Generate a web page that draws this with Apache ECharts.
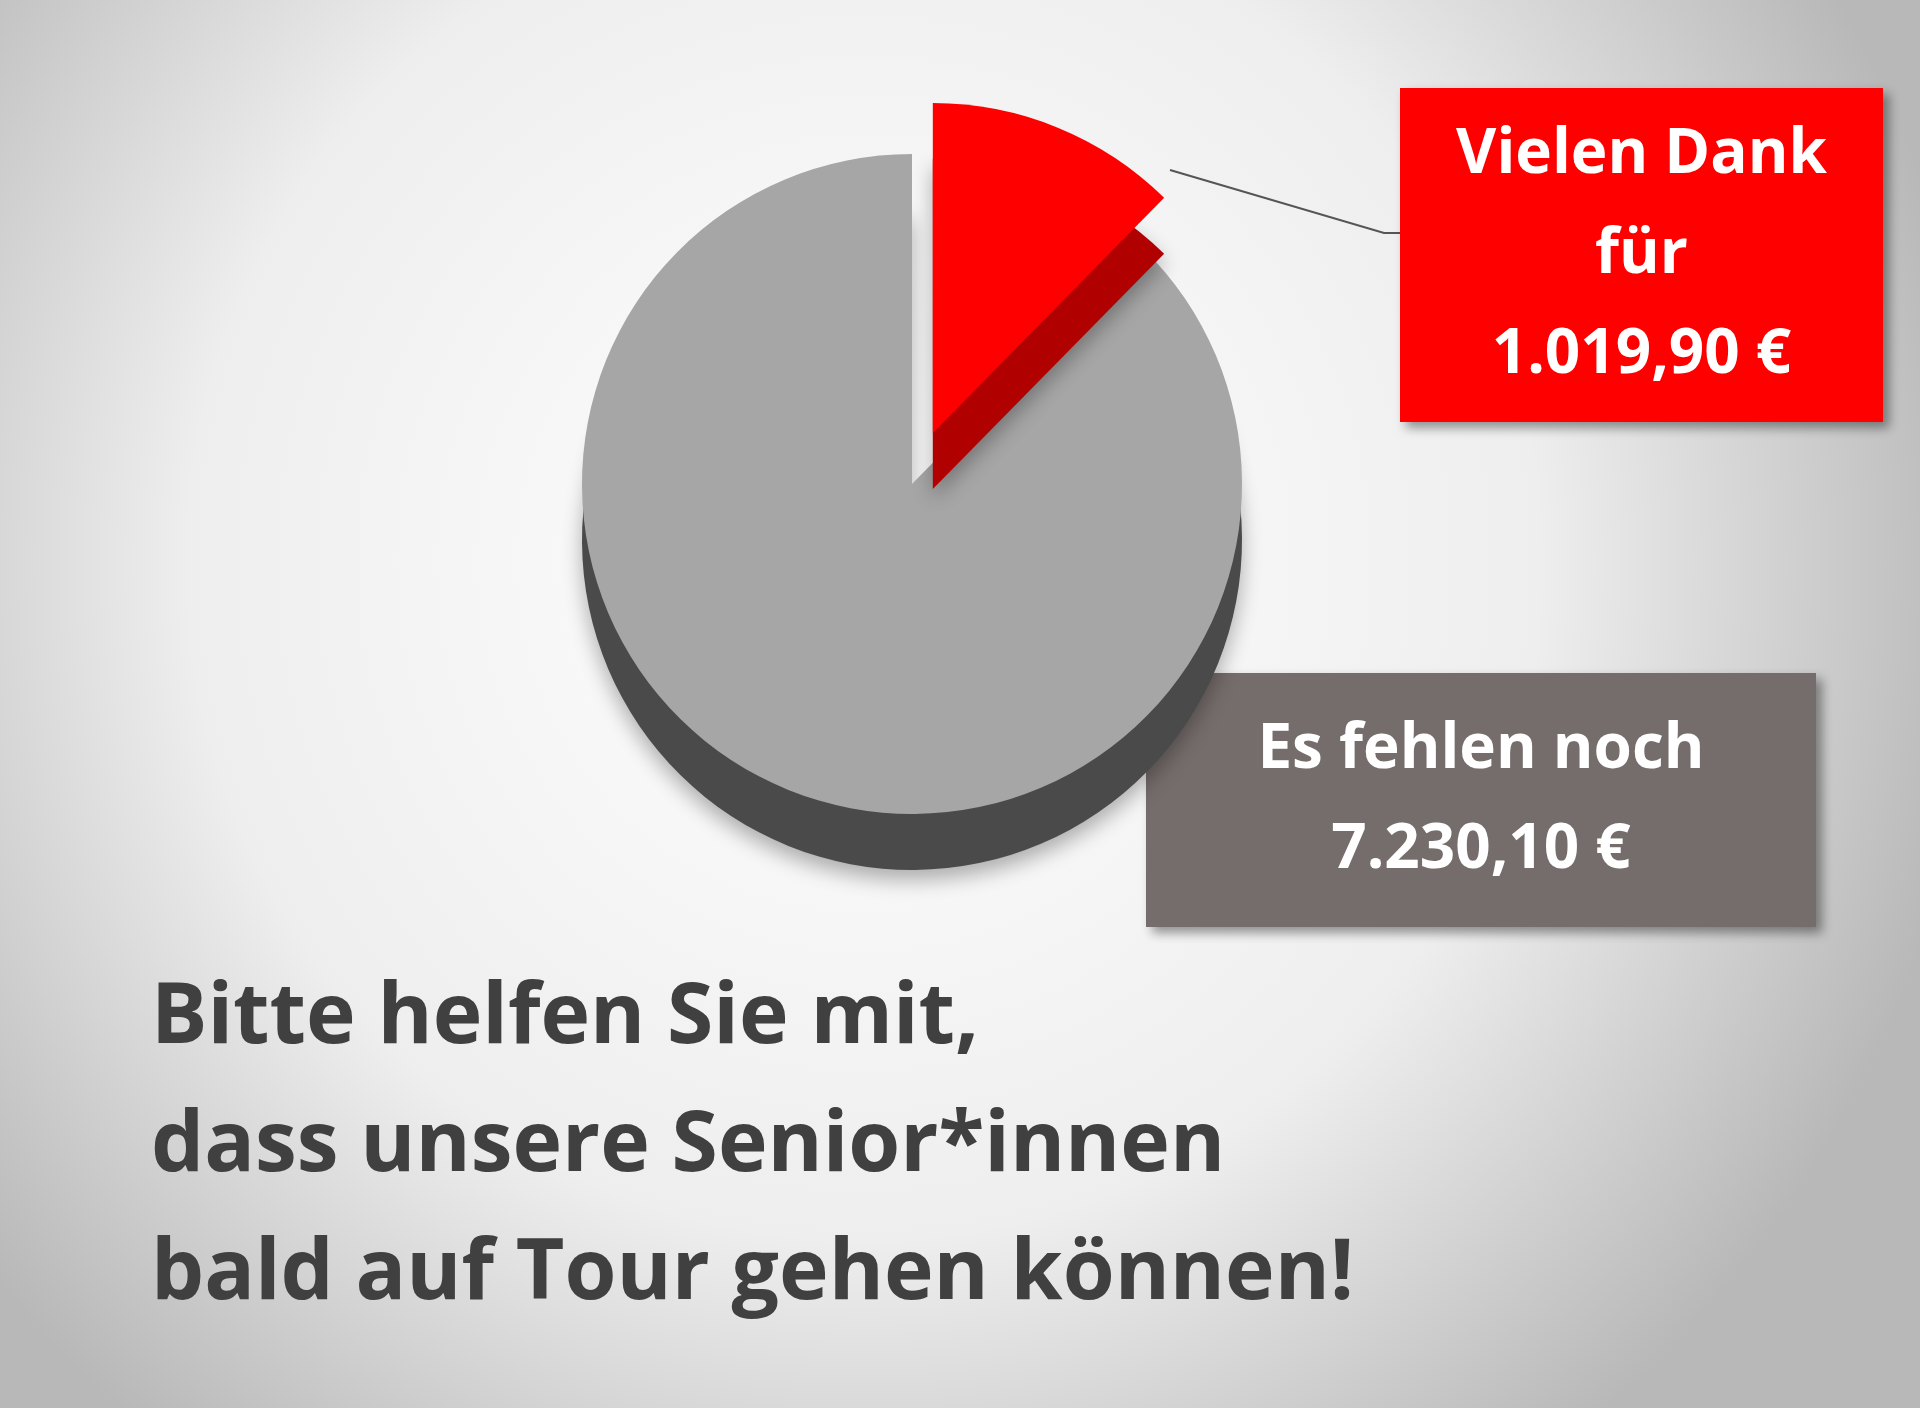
<!DOCTYPE html>
<html>
<head>
<meta charset="utf-8">
<script src="https://cdn.jsdelivr.net/npm/echarts@6/dist/echarts.min.js"></script>
<style>html,body{margin:0;padding:0;}#chart{width:1920px;height:1408px;}</style>
</head>
<body>
<div id="chart"></div>
<script>
// donation progress
const names = ['Vielen Dank', 'Es fehlen noch'];
const values = [1019.90, 7230.10];
const labelTexts = ['Vielen Dank\nfür\n1.019,90 €', 'Es fehlen noch\n7.230,10 €'];
const topColors = ['#ff0000', '#a6a6a6'];
const sideColors = ['#b00000', '#4a4a4a'];

const chart = echarts.init(document.getElementById('chart'));

const makeData = (colors) => names.map((n, i) => ({
    name: n,
    value: values[i],
    selected: i === 0,
    itemStyle: { color: colors[i] }
}));

const box = (x, y, w, h, color, text) => ({
    type: 'group',
    x: x, y: y,
    children: [
        {
            type: 'rect',
            shape: { width: w, height: h },
            style: { fill: color, shadowColor: 'rgba(0,0,0,0.4)', shadowBlur: 10, shadowOffsetX: 6, shadowOffsetY: 6 }
        },
        {
            type: 'text',
            x: w / 2, y: h / 2,
            style: {
                text: text, fill: '#fff', font: 'bold 62px "Open Sans"',
                lineHeight: 100, align: 'center', verticalAlign: 'middle'
            }
        }
    ]
});

chart.setOption({
    backgroundColor: {
        type: 'radial', x: 0.45, y: 0.4, r: 0.8,
        colorStops: [{ offset: 0, color: '#ffffff' }, { offset: 0.6, color: '#eeeeee' }, { offset: 1, color: '#b8b8b8' }]
    },
    title: {
        text: 'Bitte helfen Sie mit,\ndass unsere Senior*innen\nbald auf Tour gehen können!',
        left: 146,
        top: 950,
        textStyle: { color: '#404040', fontFamily: 'Open Sans', fontWeight: 'bold', fontSize: 84, lineHeight: 128 }
    },
    graphic: [
        { type: 'polyline', shape: { points: [[1170, 170], [1384, 233], [1400, 233]] }, style: { stroke: '#555', lineWidth: 2, fill: null } },
        box(1400, 88, 483, 334, '#ff0000', labelTexts[0]),
        box(1146, 673, 670, 254, '#756d6b', labelTexts[1])
    ],
    series: [
        {
            type: 'pie',
            center: [912, 540],
            radius: 330,
            startAngle: 90,
            clockwise: true,
            selectedMode: 'single',
            selectedOffset: 55,
            silent: true,
            label: { show: false },
            itemStyle: { shadowColor: 'rgba(0,0,0,0.3)', shadowBlur: 20, shadowOffsetY: 10 },
            data: makeData(sideColors)
        },
        {
            type: 'pie',
            center: [912, 484],
            radius: 330,
            startAngle: 90,
            clockwise: true,
            selectedMode: 'single',
            selectedOffset: 55,
            silent: true,
            label: { show: false },
            data: makeData(topColors)
        }
    ]
});
</script>
</body>
</html>
